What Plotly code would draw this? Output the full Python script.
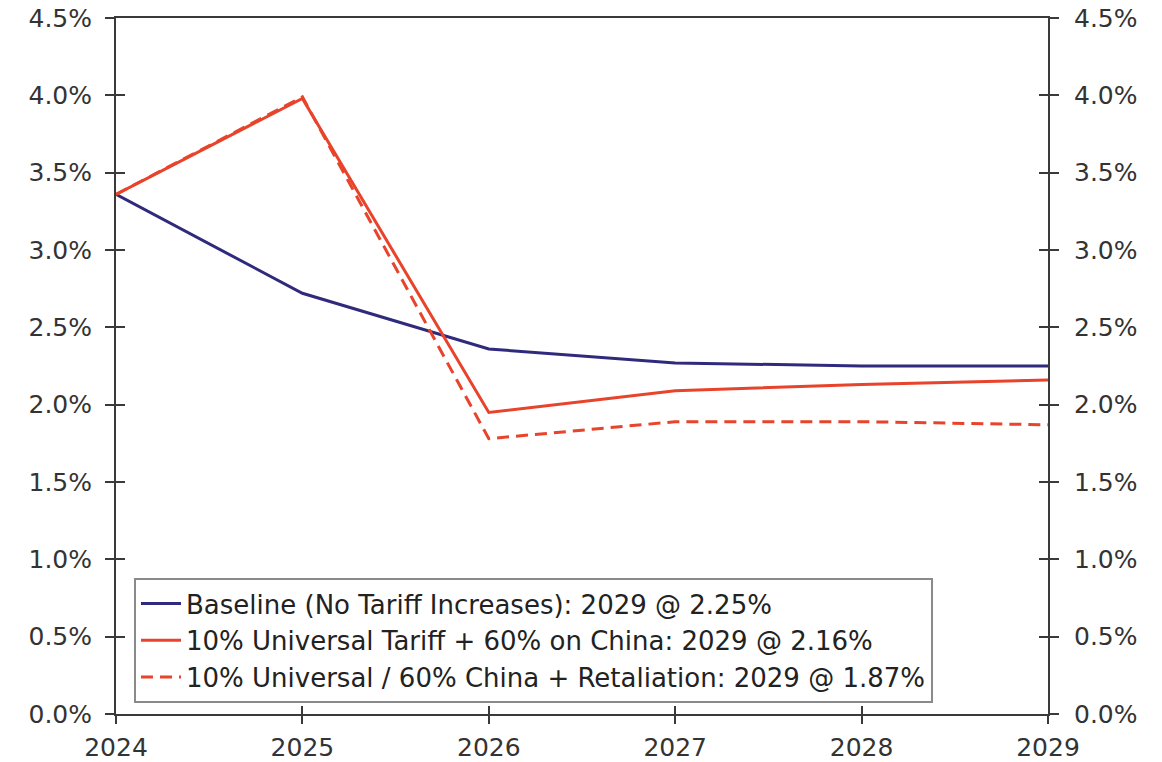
import plotly.graph_objects as go

years = [2024, 2025, 2026, 2027, 2028, 2029]
baseline = [3.36, 2.72, 2.36, 2.27, 2.25, 2.25]
universal = [3.36, 3.98, 1.95, 2.09, 2.13, 2.16]
retaliation = [3.36, 3.99, 1.78, 1.89, 1.89, 1.87]

names = [
    "Baseline (No Tariff Increases): 2029 @ 2.25%",
    "10% Universal Tariff + 60% on China: 2029 @ 2.16%",
    "10% Universal / 60% China + Retaliation: 2029 @ 1.87%",
]
y_ticks = [0, 0.5, 1.0, 1.5, 2.0, 2.5, 3.0, 3.5, 4.0, 4.5]
y_labels = [f"{v:.1f}%" for v in y_ticks]

NAVY = "#2F2A7C"
RED = "#E8432B"
AX = "#3a3a3a"
FONT = "DejaVu Sans, Verdana, sans-serif"

fig = go.Figure()
fig.add_trace(go.Scatter(x=years, y=baseline, name=names[0], mode="lines",
                         line=dict(color=NAVY, width=3), legendgroup="a"))
fig.add_trace(go.Scatter(x=years, y=universal, name=names[1], mode="lines",
                         line=dict(color=RED, width=3), legendgroup="b"))
fig.add_trace(go.Scatter(x=years, y=retaliation, name=names[2], mode="lines",
                         line=dict(color=RED, width=3, dash="12px,7px"), legendgroup="c"))

# invisible traces to anchor the auxiliary axes (crossing ticks, right axis)
for xa, ya in [("x", "y2"), ("x", "y3"), ("x", "y4"), ("x2", "y")]:
    fig.add_trace(go.Scatter(x=years, y=baseline, xaxis=xa, yaxis=ya, mode="lines",
                             line=dict(width=0, color="rgba(0,0,0,0)"),
                             showlegend=False, hoverinfo="skip"))

yr = [0, 4.5]
xr = [2024, 2029]
tickfont = dict(family=FONT, size=25, color="#333333")

fig.update_layout(
    width=1162, height=762,
    margin=dict(l=116, r=114, t=18, b=48, autoexpand=False),
    plot_bgcolor="white", paper_bgcolor="white",
    font=dict(family=FONT, color="#222222"),
    showlegend=True,
    legend=dict(x=0.0193, y=0.1954, xanchor="left", yanchor="top",
                bgcolor="white", bordercolor="#8a8a8a", borderwidth=2,
                font=dict(family=FONT, size=26, color="#222222"),
                tracegroupgap=0, itemwidth=40),
    xaxis=dict(range=xr, tickvals=years, ticktext=[str(y) for y in years],
               showgrid=False, zeroline=False, showline=True, linecolor=AX,
               linewidth=2, mirror=True, ticks="outside", ticklen=8,
               tickcolor=AX, tickwidth=2, tickfont=tickfont,
               ticklabelstandoff=2, automargin=False),
    xaxis2=dict(range=xr, tickvals=years, overlaying="x", side="bottom",
                showticklabels=False, showgrid=False, zeroline=False,
                ticks="inside", ticklen=8, tickcolor=AX, tickwidth=2,
                automargin=False),
    yaxis=dict(range=yr, tickvals=y_ticks, ticktext=y_labels, showgrid=False,
               zeroline=False, showline=True, linecolor=AX, linewidth=2,
               ticks="outside", ticklen=9, tickcolor=AX, tickwidth=2,
               tickfont=tickfont, ticklabelstandoff=8, automargin=False),
    yaxis2=dict(range=yr, tickvals=y_ticks, ticktext=y_labels, overlaying="y",
                side="right", showgrid=False, zeroline=False, showline=True,
                linecolor=AX, linewidth=2, ticks="outside", ticklen=9,
                tickcolor=AX, tickwidth=2, tickfont=tickfont,
                ticklabelstandoff=10, automargin=False),
    yaxis3=dict(range=yr, tickvals=y_ticks, overlaying="y", side="left",
                showticklabels=False, showgrid=False, zeroline=False,
                ticks="inside", ticklen=9, tickcolor=AX, tickwidth=2,
                automargin=False),
    yaxis4=dict(range=yr, tickvals=y_ticks, overlaying="y", side="right",
                showticklabels=False, showgrid=False, zeroline=False,
                ticks="inside", ticklen=9, tickcolor=AX, tickwidth=2,
                automargin=False),
)

fig.write_html("out.html")
